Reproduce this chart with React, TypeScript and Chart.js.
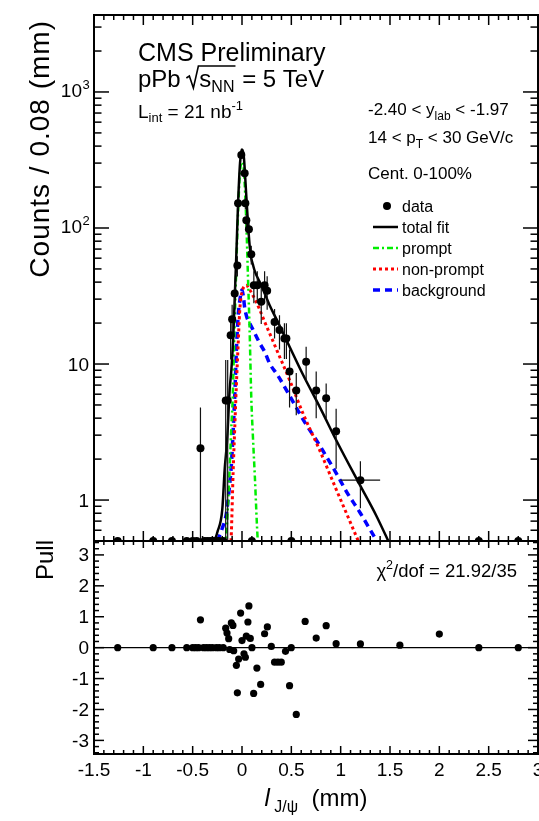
import React, { useEffect, useRef } from "react";
import { Chart, registerables } from "chart.js";

Chart.register(...registerables);

// ---------------- axis ranges ----------------
const X_MIN = -1.5;
const X_MAX = 3.0;
const COUNT_MIN = 0.5;
const COUNT_MAX = 3680;
const PULL_MIN = -3.44;
const PULL_MAX = 3.45;

// ---------------- data (l_J/psi in mm, counts / 0.08 mm) ----------------
const binX = [-0.421, -0.165, -0.145, -0.115, -0.1, -0.074, -0.047, -0.04, -0.007, 0.027, 0.034, 0.044, 0.07, 0.094, 0.12, 0.155, 0.195, 0.229, 0.255, 0.33, 0.38, 0.43, 0.45, 0.482, 0.55, 0.65, 0.752, 0.853, 0.954, 1.2, 1.6, 2.0];
const binCounts = [2.4, 5.4, 5.4, 16.3, 21.3, 33, 53, 152, 344, 253, 152, 114, 98, 64, 38, 38, 28.7, 38, 34.6, 20.4, 17.8, 15.4, 15.4, 8.8, 6.4, 10.4, 6.4, 5.6, 3.2, 1.4, 0.2, 0.2];
const binErrors = [2.4, 5.3, 5.3, 5.5, 6, 7, 9, 15, 22, 19, 15, 13, 12, 10, 10, 10, 9, 10, 9.5, 5, 5, 4.5, 4.5, 4, 2.2, 3, 2.4, 1.6, 1.5, 0.53, 0.2, 0.2];
const binHalfWidths = [0, 0, 0, 0, 0, 0, 0, 0, 0, 0, 0, 0, 0, 0, 0, 0, 0, 0, 0, 0, 0, 0, 0, 0, 0, 0, 0, 0, 0, 0.2, 0.2, 0.2];
const emptyBinX = [-1.26, -0.9, -0.71, -0.56, -0.5, -0.46, -0.38, -0.35, -0.32, -0.29, -0.26, -0.23, -0.19, 0.1, 0.5, 2.4, 2.8];

// ---------------- pulls ----------------
const pullX = [-1.26, -0.9, -0.71, -0.56, -0.5, -0.47, -0.44, -0.421, -0.39, -0.36, -0.33, -0.3, -0.26, -0.23, -0.19, -0.165, -0.152, -0.135, -0.125, -0.108, -0.092, -0.084, -0.057, -0.047, -0.034, -0.014, 0.0, 0.02, 0.034, 0.044, 0.06, 0.07, 0.084, 0.101, 0.118, 0.151, 0.189, 0.229, 0.257, 0.297, 0.33, 0.364, 0.398, 0.441, 0.482, 0.499, 0.55, 0.64, 0.752, 0.853, 0.954, 1.2, 1.6, 2.0, 2.4, 2.8];
const pullValues = [0, 0, 0, 0, 0, 0, 0, 0.9, 0, 0, 0, 0, 0, 0, 0, 0.63, 0.47, 0.29, -0.06, 0.8, 0.72, -0.1, -0.57, -1.46, -0.37, 1.12, 0.23, -0.2, -0.31, 0.37, 0.83, 1.35, 0.3, 0, -1.48, -0.66, -1.19, 0.45, 0.67, 0.04, -0.47, -0.47, -0.47, -0.12, -1.23, 0, -2.16, 0.85, 0.31, 0.71, 0.13, 0.12, 0.08, 0.44, 0, 0];

// ---------------- fit components ----------------
const totalX = [-0.3, -0.277, -0.25, -0.2, -0.175, -0.15, -0.125, -0.108, -0.09, -0.074, -0.057, -0.04, -0.02, -0.005, 0.0, 0.01, 0.02, 0.044, 0.06, 0.077, 0.094, 0.11, 0.13, 0.18, 0.23, 0.28, 0.36, 0.48, 0.62, 0.79, 0.95, 1.2, 1.36, 1.5];
const totalY = [0.42, 0.5, 0.58, 0.85, 1.7, 2.8, 6.5, 9, 15, 30, 65, 150, 300, 370, 378, 365, 325, 170, 110, 75, 60, 54, 48, 40, 33, 27, 20.6, 13.5, 8.3, 4.8, 2.8, 1.27, 0.77, 0.47];
const promptX = [-0.175, -0.16, -0.13, -0.11, -0.094, -0.077, -0.06, -0.044, -0.02, 0.0, 0.02, 0.044, 0.06, 0.077, 0.094, 0.11, 0.13, 0.16, 0.175];
const promptY = [0.45, 0.55, 1.4, 3.2, 5.7, 17, 45, 108, 260, 305, 260, 108, 45, 18, 5.7, 3.0, 1.5, 0.5, 0.4];
const nonPromptX = [-0.115, -0.108, -0.09, -0.074, -0.057, -0.04, -0.024, -0.01, 0.0, 0.02, 0.044, 0.07, 0.1, 0.14, 0.18, 0.23, 0.28, 0.36, 0.48, 0.62, 0.79, 0.95, 1.1, 1.2];
const nonPromptY = [0.45, 0.57, 1.6, 3.3, 7, 13.4, 24, 31, 34, 37, 38, 36, 33, 29, 25, 20.4, 16.8, 12.3, 7.7, 4.3, 2.3, 1.22, 0.68, 0.46];
const bkgX = [-0.25, -0.2, -0.158, -0.13, -0.108, -0.09, -0.074, -0.057, -0.04, -0.02, 0.0, 0.015, 0.027, 0.05, 0.077, 0.13, 0.18, 0.23, 0.28, 0.36, 0.48, 0.62, 0.79, 0.95, 1.06, 1.2, 1.36, 1.4];
const bkgY = [0.5, 0.62, 0.8, 1.2, 1.8, 3.2, 5.7, 12.6, 22, 30, 35, 31, 26, 22, 20, 16.8, 14.2, 12.3, 10.1, 8.3, 5.9, 3.9, 2.5, 1.6, 1.15, 0.8, 0.51, 0.46];

// ---------------- tick labels ----------------
const countTickValues = [1, 10, 100, 1000];
const countTickExponents = ["", "", "2", "3"];
const countTickBases = ["1", "10", "10", "10"];
const pullTickValues = [3, 2, 1, 0, -1, -2, -3];
const xTickValues = [-1.5, -1, -0.5, 0, 0.5, 1, 1.5, 2, 2.5, 3];

// ---------------- styles ----------------
const FONT = "'Liberation Sans', Arial, Helvetica, sans-serif";
const GREEN = "#00ee00";
const RED = "#ff0000";
const BLUE = "#0000ff";
const DASH_PROMPT = [6, 3, 2, 3];
const DASH_NONPROMPT = [3, 3];
const DASH_BKG = [7, 5];

const pts = (xs: number[], ys: number[]) => xs.map((x, i) => ({ x, y: ys[i] }));

function errorSegments(xs: number[], ys: number[], errs: number[], hw: number[], floor: number) {
  const out: any[] = [];
  xs.forEach((x, i) => {
    const y = ys[i];
    const e = errs[i];
    out.push({ x, y: Math.max(y - e, floor) }, { x, y: y + e }, { x, y: null });
    if (hw[i] > 0) out.push({ x: x - hw[i], y }, { x: x + hw[i], y }, { x, y: null });
  });
  return out;
}

type Part = { t: string; size: number; dy?: number; italic?: boolean };

function richWidth(ctx: CanvasRenderingContext2D, parts: Part[]) {
  let w = 0;
  for (const p of parts) {
    ctx.font = `${p.italic ? "italic " : ""}${p.size}px ${FONT}`;
    w += ctx.measureText(p.t).width;
  }
  return w;
}

function drawRich(ctx: CanvasRenderingContext2D, x: number, y: number, parts: Part[], align = "left") {
  const w = richWidth(ctx, parts);
  let cx = align === "left" ? x : align === "right" ? x - w : x - w / 2;
  ctx.textAlign = "left";
  ctx.textBaseline = "alphabetic";
  for (const p of parts) {
    ctx.font = `${p.italic ? "italic " : ""}${p.size}px ${FONT}`;
    ctx.fillText(p.t, cx, y + (p.dy || 0));
    cx += ctx.measureText(p.t).width;
  }
  return cx;
}

function seg(ctx: CanvasRenderingContext2D, x1: number, y1: number, x2: number, y2: number) {
  ctx.beginPath();
  ctx.moveTo(x1, y1);
  ctx.lineTo(x2, y2);
  ctx.stroke();
}

function drawRotated(ctx: CanvasRenderingContext2D, text: string, x: number, y: number, size: number, spacing: string) {
  ctx.save();
  ctx.translate(x, y);
  ctx.rotate(-Math.PI / 2);
  ctx.font = `${size}px ${FONT}`;
  try { (ctx as any).letterSpacing = spacing; } catch (e) {}
  ctx.textAlign = "right";
  ctx.textBaseline = "alphabetic";
  ctx.fillText(text, 0, 0);
  ctx.restore();
}

const topDecor = {
  id: "topDecor",
  afterDraw(chart: any) {
    const { ctx, chartArea: a } = chart;
    const xs = chart.scales.x;
    const ys = chart.scales.y;
    ctx.save();
    ctx.strokeStyle = "#000";
    ctx.fillStyle = "#000";
    ctx.lineWidth = 1.5;
    // x ticks (inside)
    for (let k = -15; k <= 30; k++) {
      const px = xs.getPixelForValue(k / 10);
      const len = k % 5 === 0 ? 10 : 5;
      seg(ctx, px, a.bottom, px, a.bottom - len);
      seg(ctx, px, a.top, px, a.top + len);
    }
    // y log ticks
    for (let d = -1; d <= 3; d++) {
      for (let m = 1; m <= 9; m++) {
        const v = m * Math.pow(10, d);
        if (v < COUNT_MIN || v > COUNT_MAX) continue;
        const py = ys.getPixelForValue(v);
        const len = m === 1 ? 15 : 7.5;
        seg(ctx, a.left, py, a.left + len, py);
        seg(ctx, a.right, py, a.right - len, py);
      }
    }
    ctx.lineWidth = 2;
    ctx.strokeRect(a.left, a.top, a.right - a.left, a.bottom - a.top);

    // y tick labels
    countTickValues.forEach((v, i) => {
      const py = ys.getPixelForValue(v);
      if (countTickExponents[i]) {
        ctx.font = `19px ${FONT}`;
        ctx.textAlign = "right";
        ctx.fillText(countTickBases[i], 82, py + 5);
        ctx.font = `13px ${FONT}`;
        ctx.textAlign = "left";
        ctx.fillText(countTickExponents[i], 82.5, py - 2.5);
      } else {
        ctx.font = `19px ${FONT}`;
        ctx.textAlign = "right";
        ctx.fillText(countTickBases[i], 89, py + 6.5);
      }
    });

    // y title
    drawRotated(ctx, "Counts / 0.08 (mm)", 49, 20, 28, "1px");

    // CMS labels
    drawRich(ctx, 138, 61, [{ t: "CMS Preliminary", size: 25 }]);
    const base2 = 87;
    let cx = drawRich(ctx, 138, base2, [{ t: "pPb ", size: 24 }]);
    // radical sign
    ctx.lineWidth = 1.6;
    ctx.beginPath();
    ctx.moveTo(cx - 1, base2 - 9);
    ctx.lineTo(cx + 2, base2 - 11);
    ctx.lineTo(cx + 6, base2 + 1);
    ctx.lineTo(cx + 11, base2 - 21);
    const sStart = cx + 12;
    const sEnd = drawRich(ctx, sStart, base2, [{ t: "s", size: 24 }, { t: "NN", size: 16, dy: 5 }]);
    ctx.lineTo(sEnd + 1, base2 - 21);
    ctx.stroke();
    drawRich(ctx, sEnd + 1, base2, [{ t: " = 5 TeV", size: 24 }]);
    drawRich(ctx, 138, 118, [
      { t: "L", size: 19 },
      { t: "int", size: 13, dy: 4 },
      { t: " = 21 nb", size: 19 },
      { t: "-1", size: 13, dy: -8 },
    ]);

    // right text block
    drawRich(ctx, 368, 115, [
      { t: "-2.40 < y", size: 17 },
      { t: "lab", size: 12, dy: 5 },
      { t: " < -1.97", size: 17 },
    ]);
    drawRich(ctx, 368, 143, [
      { t: "14 < p", size: 17 },
      { t: "T", size: 12, dy: 5 },
      { t: " < 30 GeV/c", size: 17 },
    ]);
    drawRich(ctx, 368, 179, [{ t: "Cent. 0-100%", size: 17 }]);

    // legend
    const lx0 = 373;
    const lx1 = 398;
    const tx = 402;
    const rows = [206, 227, 248, 269, 290];
    ctx.beginPath();
    ctx.arc(387, rows[0], 4, 0, Math.PI * 2);
    ctx.fill();
    const lineStyles = [
      { c: "#000", d: [], w: 2.5 },
      { c: GREEN, d: DASH_PROMPT, w: 2.5 },
      { c: RED, d: DASH_NONPROMPT, w: 3 },
      { c: BLUE, d: DASH_BKG, w: 3.5 },
    ];
    lineStyles.forEach((s, i) => {
      ctx.save();
      ctx.strokeStyle = s.c;
      ctx.lineWidth = s.w;
      ctx.setLineDash(s.d);
      seg(ctx, lx0, rows[i + 1], lx1, rows[i + 1]);
      ctx.restore();
    });
    const names = ["data", "total fit", "prompt", "non-prompt", "background"];
    names.forEach((n, i) => drawRich(ctx, tx, rows[i] + 5.5, [{ t: n, size: 16 }]));
    ctx.restore();
  },
};

const pullDecor = {
  id: "pullDecor",
  afterDraw(chart: any) {
    const { ctx, chartArea: a } = chart;
    const xs = chart.scales.x;
    const ys = chart.scales.y;
    ctx.save();
    ctx.strokeStyle = "#000";
    ctx.fillStyle = "#000";
    ctx.lineWidth = 1.5;
    for (let k = -15; k <= 30; k++) {
      const px = xs.getPixelForValue(k / 10);
      const major = k % 5 === 0;
      seg(ctx, px, a.top, px, a.top + (major ? 7 : 4));
      seg(ctx, px, a.bottom, px, a.bottom - (major ? 8 : 4));
    }
    for (let k = -17; k <= 17; k++) {
      const v = k / 5;
      const py = ys.getPixelForValue(v);
      const len = k % 5 === 0 ? 10 : 5;
      seg(ctx, a.left, py, a.left + len, py);
      seg(ctx, a.right, py, a.right - len, py);
    }
    ctx.lineWidth = 2;
    ctx.strokeRect(a.left, a.top, a.right - a.left, a.bottom - a.top);

    ctx.font = `19px ${FONT}`;
    ctx.textAlign = "right";
    pullTickValues.forEach((v) => {
      ctx.fillText(String(v), 89, ys.getPixelForValue(v) + 6.5);
    });
    ctx.textAlign = "center";
    xTickValues.forEach((v) => {
      ctx.fillText(String(v), xs.getPixelForValue(v), 776);
    });

    drawRotated(ctx, "Pull", 53, 540, 24, "0px");
    drawRich(ctx, 517, 577, [
      { t: "\u03C7", size: 18.5 },
      { t: "2", size: 12.5, dy: -8 },
      { t: "/dof = 21.92/35", size: 18.5 },
    ], "right");
    drawRich(ctx, (a.left + a.right) / 2, 806, [
      { t: "l", size: 24, italic: true },
      { t: " J/\u03C8", size: 16, dy: 6 },
      { t: "  (mm)", size: 24 },
    ], "center");
    ctx.restore();
  },
};

function baseOptions(padding: any, yScale: any) {
  return {
    responsive: false,
    animation: false,
    events: [],
    devicePixelRatio: 1,
    layout: { padding },
    plugins: { legend: { display: false }, tooltip: { enabled: false }, title: { display: false } },
    scales: {
      x: { type: "linear", min: X_MIN, max: X_MAX, display: false },
      y: yScale,
    },
  };
}

function curve(label: string, xs: number[], ys: number[], color: string, dash: number[], width: number, order: number) {
  return {
    label,
    data: pts(xs, ys),
    showLine: true,
    borderColor: color,
    borderDash: dash,
    borderWidth: width,
    pointRadius: 0,
    fill: false,
    cubicInterpolationMode: "monotone",
    order,
  };
}

export default function App() {
  const topRef = useRef<HTMLCanvasElement>(null);
  const pullRef = useRef<HTMLCanvasElement>(null);

  useEffect(() => {
    const top = new Chart(topRef.current as HTMLCanvasElement, {
      type: "scatter",
      data: {
        datasets: [
          { label: "data", data: pts(binX, binCounts), pointRadius: 4, pointBackgroundColor: "#000", pointBorderWidth: 0, showLine: false, order: 0 },
          { label: "empty", data: emptyBinX.map((x) => ({ x, y: COUNT_MIN })), pointRadius: 4, pointBackgroundColor: "#000", pointBorderWidth: 0, showLine: false, clip: 0, order: 0 },
          { label: "errors", data: errorSegments(binX, binCounts, binErrors, binHalfWidths, 0.05), showLine: true, spanGaps: false, borderColor: "#111", borderWidth: 1.2, pointRadius: 0, order: 1 },
          curve("total fit", totalX, totalY, "#000", [], 2.5, 2),
          curve("prompt", promptX, promptY, GREEN, DASH_PROMPT, 2.5, 3),
          curve("non-prompt", nonPromptX, nonPromptY, RED, DASH_NONPROMPT, 3, 4),
          curve("background", bkgX, bkgY, BLUE, DASH_BKG, 3.5, 5),
        ],
      } as any,
      options: baseOptions({ left: 94, right: 22, top: 15, bottom: 19 }, { type: "logarithmic", min: COUNT_MIN, max: COUNT_MAX, display: false }) as any,
      plugins: [topDecor],
    });

    const pull = new Chart(pullRef.current as HTMLCanvasElement, {
      type: "scatter",
      data: {
        datasets: [
          { label: "pull", data: pts(pullX, pullValues), pointRadius: 3.6, pointBackgroundColor: "#000", pointBorderWidth: 0, showLine: false, order: 0 },
          { label: "zero", data: [{ x: X_MIN, y: 0 }, { x: X_MAX, y: 0 }], showLine: true, borderColor: "#000", borderWidth: 1.2, pointRadius: 0, order: 1 },
        ],
      } as any,
      options: baseOptions({ left: 94, right: 22, top: 541, bottom: 67 }, { type: "linear", min: PULL_MIN, max: PULL_MAX, display: false }) as any,
      plugins: [pullDecor],
    });

    return () => {
      top.destroy();
      pull.destroy();
    };
  }, []);

  return (
    <div style={{ position: "fixed", left: 0, top: 0, width: 539, height: 821, overflow: "hidden", background: "#fff" }}>
      <canvas ref={pullRef} width={560} height={821} style={{ position: "absolute", left: 0, top: 0 }} />
      <canvas ref={topRef} width={560} height={560} style={{ position: "absolute", left: 0, top: 0 }} />
    </div>
  );
}
